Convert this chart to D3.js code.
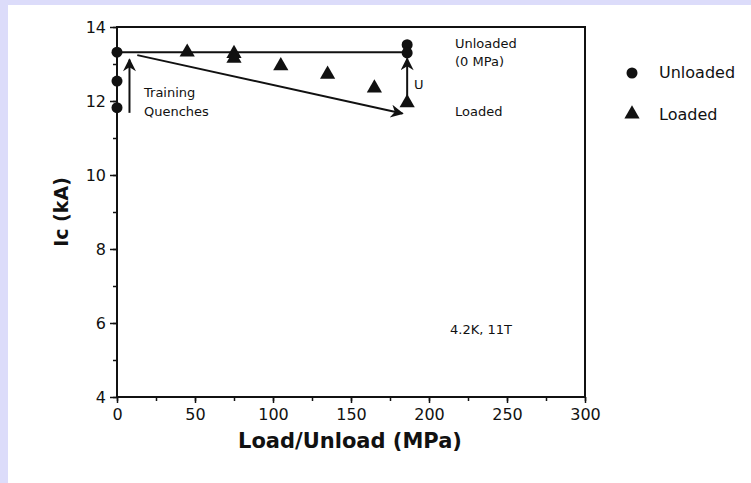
<!DOCTYPE html>
<html>
<head>
<meta charset="utf-8">
<script src="https://cdn.jsdelivr.net/npm/d3@7"></script>
<style>
    body { margin: 0; background: #fff; }
    svg { display: block; }
    text { font-family: "DejaVu Sans", sans-serif; fill: #111; }
</style>
</head>
<body>
<svg id="chart" width="751" height="483"></svg>
<script>
// Unloaded (circles)
const unloadedX = [0, 0, 0, 186, 186];
const unloadedY = [13.32, 12.54, 11.82, 13.52, 13.3];

// Loaded (triangles)
const loadedX = [45, 75, 75, 105, 135, 165, 186];
const loadedY = [13.32, 13.28, 13.15, 12.95, 12.72, 12.35, 11.95];

// annotation lines / arrows: [x1, y1, x2, y2]
const plateau = [0, 13.32, 186, 13.32];
const loadPath = [13, 13.24, 183, 11.66];
const trainArrow = [8, 11.68, 8, 13.12];
const unloadArrow = [186, 11.95, 186, 13.15];

const xTicks = [0, 50, 100, 150, 200, 250, 300];
const yTicks = [4, 6, 8, 10, 12, 14];

const svg = d3.select('#chart');

// lavender frame on left/top edge
svg.append('rect').attr('x', 0).attr('y', 0).attr('width', 751).attr('height', 483).attr('fill', '#dcdcfa');
svg.append('rect').attr('x', 8).attr('y', 5).attr('width', 743).attr('height', 478).attr('fill', '#fff');

const x = d3.scaleLinear().domain([0, 300]).range([117, 585]);
const y = d3.scaleLinear().domain([4, 14]).range([397, 27]);

// minor ticks
const xAxis = d3.axisBottom(x).tickValues(d3.range(0, 301, 25)).tickSize(4).tickFormat('');
const yAxis = d3.axisLeft(y).tickValues(d3.range(4, 14.1, 1)).tickSize(4).tickFormat('');
svg.append('g').attr('transform', 'translate(0,397)').call(xAxis)
    .call(g => g.select('.domain').remove());
svg.append('g').attr('transform', 'translate(117,0)').call(yAxis)
    .call(g => g.select('.domain').remove());

// major ticks with labels
const gx = svg.append('g').attr('transform', 'translate(0,397)')
    .call(d3.axisBottom(x).tickValues(xTicks).tickSize(6).tickPadding(6));
const gy = svg.append('g').attr('transform', 'translate(117,0)')
    .call(d3.axisLeft(y).tickValues(yTicks).tickSize(7).tickPadding(4));
[gx, gy].forEach(g => {
    g.select('.domain').remove();
    g.selectAll('text').style('font-size', '16px').attr('fill', '#111');
});
svg.selectAll('.tick line').attr('stroke', '#111').attr('stroke-width', 1.5);

// plot frame
svg.append('rect')
    .attr('x', x(0)).attr('y', y(14))
    .attr('width', x(300) - x(0)).attr('height', y(4) - y(14))
    .attr('fill', 'none').attr('stroke', '#111').attr('stroke-width', 2);

// arrow marker
svg.append('defs').append('marker')
    .attr('id', 'head').attr('viewBox', '0 0 10 10')
    .attr('refX', 9).attr('refY', 5)
    .attr('markerWidth', 15).attr('markerHeight', 13)
    .attr('markerUnits', 'userSpaceOnUse')
    .attr('orient', 'auto')
    .append('path').attr('d', 'M0,0 L10,5 L0,10 L3,5 Z').attr('fill', '#111');

function seg(s, arrow) {
    const l = svg.append('line')
        .attr('x1', x(s[0])).attr('y1', y(s[1]))
        .attr('x2', x(s[2])).attr('y2', y(s[3]))
        .attr('stroke', '#111').attr('stroke-width', 2);
    if (arrow) l.attr('marker-end', 'url(#head)');
}
seg(plateau, false);
seg(loadPath, true);
seg(trainArrow, true);
seg(unloadArrow, true);

// data points
const unloaded = unloadedX.map((d, i) => ({ x: d, y: unloadedY[i] }));
const loaded = loadedX.map((d, i) => ({ x: d, y: loadedY[i] }));

svg.append('g').selectAll('circle').data(unloaded).join('circle')
    .attr('cx', d => x(d.x)).attr('cy', d => y(d.y))
    .attr('r', 5.5).attr('fill', '#111');

const tri = d3.symbol().type(d3.symbolTriangle).size(100);
svg.append('g').selectAll('path').data(loaded).join('path')
    .attr('d', tri)
    .attr('transform', d => `translate(${x(d.x)},${y(d.y)})`)
    .attr('fill', '#111');

// annotations
const notes = [
    { t: 'Training', x: 144, y: 93 },
    { t: 'Quenches', x: 144, y: 112 },
    { t: 'Unloaded', x: 455, y: 44 },
    { t: '(0 MPa)', x: 455, y: 62 },
    { t: 'Loaded', x: 455, y: 112 },
    { t: 'U', x: 414, y: 85 },
    { t: '4.2K, 11T', x: 450, y: 330 }
];
svg.append('g').selectAll('text').data(notes).join('text')
    .attr('x', d => d.x).attr('y', d => d.y)
    .attr('dominant-baseline', 'middle')
    .style('font-size', '13px')
    .text(d => d.t);

// legend
const lg = svg.append('g');
lg.append('circle').attr('cx', 632).attr('cy', 73).attr('r', 5.5).attr('fill', '#111');
lg.append('path').attr('d', tri).attr('transform', 'translate(632,114)').attr('fill', '#111');
lg.append('text').attr('x', 659).attr('y', 73).attr('dominant-baseline', 'middle')
    .style('font-size', '16px').text('Unloaded');
lg.append('text').attr('x', 659).attr('y', 115).attr('dominant-baseline', 'middle')
    .style('font-size', '16px').text('Loaded');

// axis titles
svg.append('text')
    .attr('x', 350).attr('y', 442)
    .attr('text-anchor', 'middle').attr('dominant-baseline', 'middle')
    .style('font-size', '21px').style('font-weight', 'bold')
    .text('Load/Unload (MPa)');
svg.append('text')
    .attr('transform', 'translate(62,212) rotate(-90)')
    .attr('text-anchor', 'middle').attr('dominant-baseline', 'middle')
    .style('font-size', '19px').style('font-weight', 'bold')
    .text('Ic (kA)');
</script>
</body>
</html>
